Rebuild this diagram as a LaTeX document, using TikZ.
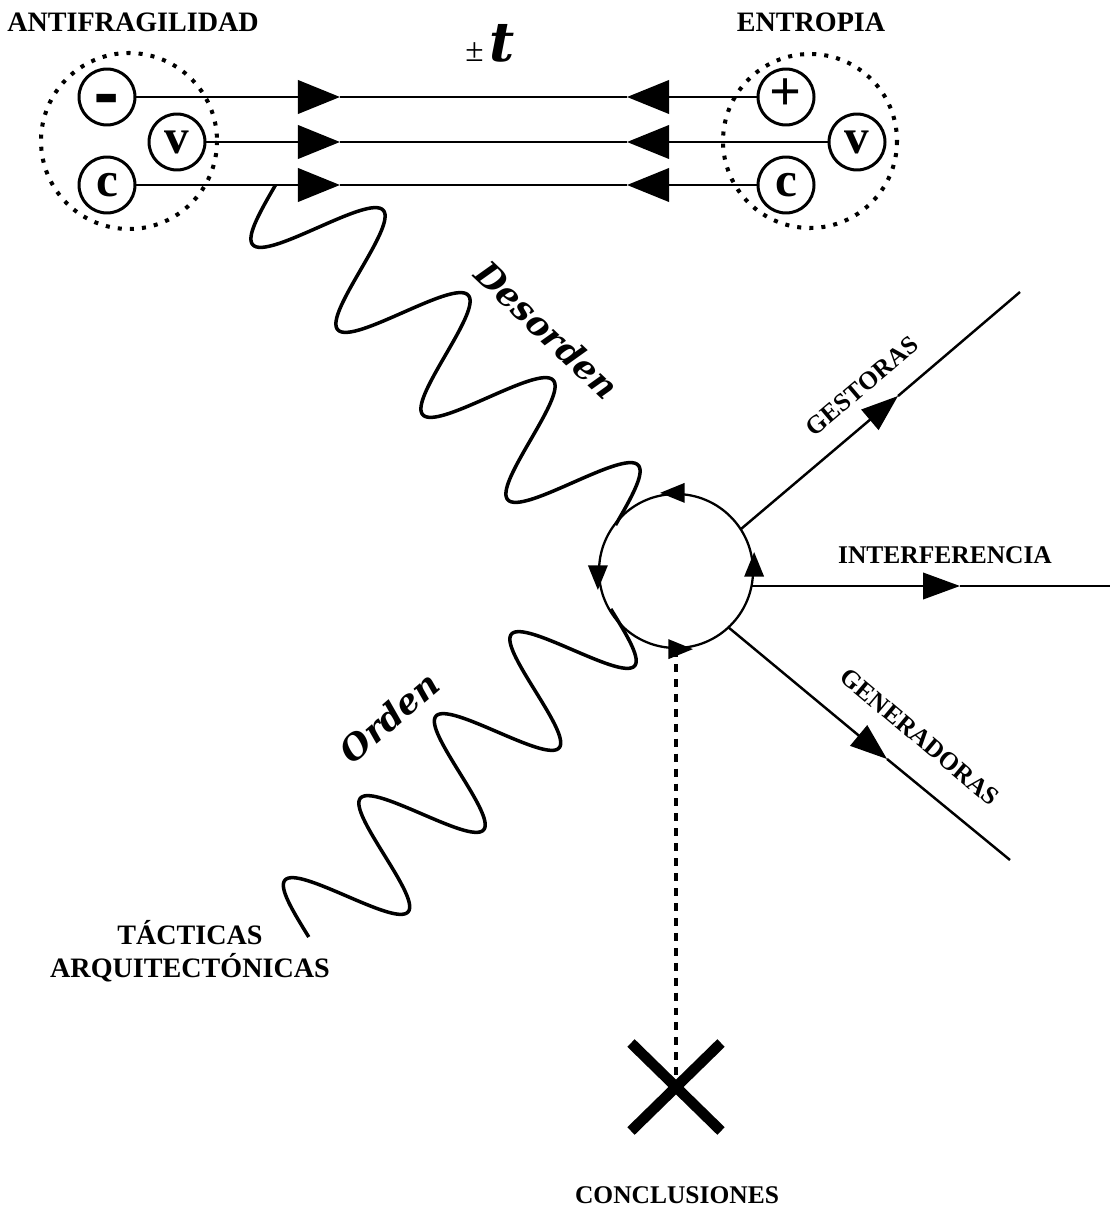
\documentclass[tikz,border=0pt]{standalone}
\usepackage{fontspec}
\setmainfont{Liberation Serif}
\newfontfamily\wavefont{DejaVu Serif}
\usetikzlibrary{arrows.meta}

\begin{document}
\begin{tikzpicture}[x=0.02cm, y=-0.02cm,
  >={Triangle[length=24pt, width=19pt]},
  pole/.style={draw, circle, line width=1.7pt, minimum size=1.12cm, inner sep=0pt,
    text height=13.5pt, text depth=0pt, font=\bfseries\fontsize{28}{30}\selectfont},
  cloud/.style={line width=2.3pt, dash pattern=on 2.3pt off 4.6pt},
  wire/.style={line width=1.7pt},
  ray/.style={line width=1.4pt},
  raytip/.style={-{Triangle[length=21pt, width=15pt]}},
  looptip/.style={line width=1.3pt, -{Triangle[length=14pt, width=11pt]}},
  wave/.style={line width=2pt, smooth, samples=300},
  title/.style={font=\bfseries\fontsize{16}{19}\selectfont},
  tag/.style={font=\bfseries\fontsize{14.5}{17}\selectfont},
  flow/.style={font=\wavefont\bfseries\itshape\fontsize{19.5}{22}\selectfont}]

\fill[white] (0,0) rectangle (1110,1209);
\useasboundingbox (0,0) rectangle (1110,1209);

\node[title] (antifrag) at (133,22) {ANTIFRAGILIDAD};
\node[title] (entropia) at (811,22) {ENTROPIA};
\node (tiempo) at (490,43) {\fontsize{19}{20}\selectfont ±\,{\wavefont\bfseries\itshape\fontsize{31}{34}\selectfont t}};

\draw[cloud] (129,141) circle (88);
\draw[cloud] (810,141) circle (87);

\node[pole, text height=21pt, font=\wavefont\bfseries\fontsize{36}{38}\selectfont] (menos) at (107,97) {-};
\node[pole] (vizq) at (177,142) {v};
\node[pole] (cizq) at (107,185) {c};
\node[pole, text height=15pt, font=\bfseries\fontsize{32}{34}\selectfont] (mas) at (786,97) {+};
\node[pole] (vder) at (857,142) {v};
\node[pole] (cder) at (786,185) {c};

\coordinate (ta1) at (340,97);
\coordinate (tb1) at (627,97);
\coordinate (ta2) at (340,142);
\coordinate (tb2) at (627,142);
\coordinate (ta3) at (340,185);
\coordinate (tb3) at (627,185);

\draw[wire, ->] (menos) -- (ta1);
\draw[wire] (ta1) -- (tb1);
\draw[wire, ->] (mas) -- (tb1);
\draw[wire, ->] (vizq) -- (ta2);
\draw[wire] (ta2) -- (tb2);
\draw[wire, ->] (vder) -- (tb2);
\draw[wire, ->] (cizq) -- (ta3);
\draw[wire] (ta3) -- (tb3);
\draw[wire, ->] (cder) -- (tb3);

\draw[wave] plot[domain=-270:1170] ({339.25+\x/360*85+43.75*cos(\x)}, {248.75+\x/360*85-38.75*cos(\x)});
\draw[wave] plot[domain=90:1530] ({289.9+\x/360*75.5+42.6*cos(\x)}, {957.5-\x/360*82+36.5*cos(\x)});

\node[draw, circle, line width=1.3pt, minimum size=3.08cm, inner sep=0pt] (loop) at (676,571) {};
\draw[looptip] (loop.north) -- ++(-16,0);
\draw[looptip] (loop.west) -- ++(0,19);
\draw[looptip] (loop.south) -- ++(17,0);
\draw[looptip] (loop.east) -- ++(0,-19);

\coordinate (gs0) at (741,529);
\coordinate (gs1) at (898,396);
\coordinate (gs2) at (1020,292);
\coordinate (in0) at (752,586);
\coordinate (in1) at (960,586);
\coordinate (in2) at (1110,586);
\coordinate (gn0) at (728,627);
\coordinate (gn1) at (887,759);
\coordinate (gn2) at (1010,860);

\draw[ray, raytip] (gs0) -- (gs1);
\draw[ray] (gs1) -- (gs2);
\draw[ray, raytip] (in0) -- (in1);
\draw[ray] (in1) -- (in2);
\draw[ray, raytip] (gn0) -- (gn1);
\draw[ray] (gn1) -- (gn2);

\node[tag, rotate=40.3] (gestoras) at (862,386) {GESTORAS};
\node[tag] (interf) at (945,555) {INTERFERENCIA};
\node[tag, rotate=-40] (generad) at (920,737) {GENERADORAS};

\node[flow, rotate=-43.5] (desorden) at (547,330) {Desorden};
\node[flow, rotate=40.7] (orden) at (389,717) {Orden};

\node[title, align=center] (tacticas) at (190,951) {TÁCTICAS\\ARQUITECTÓNICAS};

\coordinate (cruz) at (676,1087);
\draw[line width=2.5pt, dash pattern=on 4.5pt off 4pt] (loop.south) -- (cruz);
\draw[line width=6pt] (631,1043) -- (721,1131);
\draw[line width=6pt] (721,1043) -- (631,1131);

\node[tag] (conclus) at (677,1195) {CONCLUSIONES};

\end{tikzpicture}
\end{document}
